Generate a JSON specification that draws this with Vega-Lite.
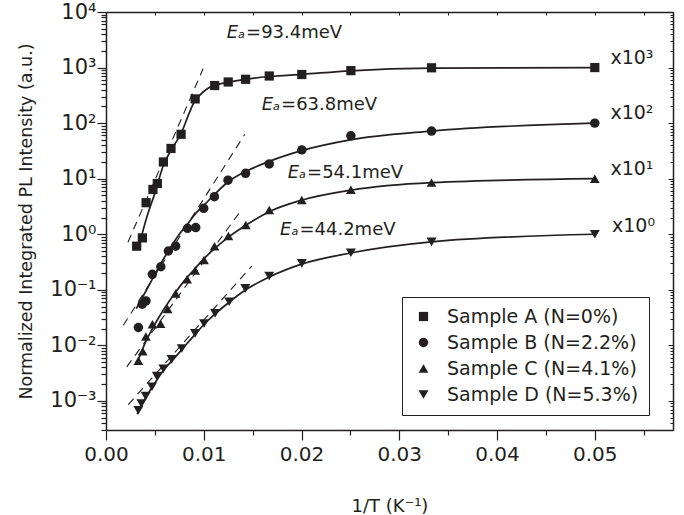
{
  "$schema": "https://vega.github.io/schema/vega-lite/v6.json",
  "width": 567,
  "height": 418,
  "autosize": "none",
  "padding": {"left": 106, "top": 12, "right": 11, "bottom": 85},
  "background": "white",
  "config": {
    "view": {"stroke": null},
    "font": "DejaVu Sans",
    "text": {"font": "DejaVu Sans", "color": "#231f20"}
  },
  "datasets": {
    "measured": [
      {"sample": "Sample A (N=0%)", "x": 0.00314, "y": 0.61},
      {"sample": "Sample A (N=0%)", "x": 0.00372, "y": 0.86},
      {"sample": "Sample A (N=0%)", "x": 0.0041, "y": 3.7},
      {"sample": "Sample A (N=0%)", "x": 0.0048, "y": 6.4},
      {"sample": "Sample A (N=0%)", "x": 0.00525, "y": 8.2},
      {"sample": "Sample A (N=0%)", "x": 0.00587, "y": 20},
      {"sample": "Sample A (N=0%)", "x": 0.00665, "y": 35},
      {"sample": "Sample A (N=0%)", "x": 0.00768, "y": 63},
      {"sample": "Sample A (N=0%)", "x": 0.00912, "y": 273},
      {"sample": "Sample A (N=0%)", "x": 0.01112, "y": 475},
      {"sample": "Sample A (N=0%)", "x": 0.0125, "y": 550},
      {"sample": "Sample A (N=0%)", "x": 0.01428, "y": 615},
      {"sample": "Sample A (N=0%)", "x": 0.0167, "y": 705},
      {"sample": "Sample A (N=0%)", "x": 0.02003, "y": 750},
      {"sample": "Sample A (N=0%)", "x": 0.02505, "y": 880},
      {"sample": "Sample A (N=0%)", "x": 0.0333, "y": 990},
      {"sample": "Sample A (N=0%)", "x": 0.05, "y": 1000},
      {"sample": "Sample B (N=2.2%)", "x": 0.00331, "y": 0.021},
      {"sample": "Sample B (N=2.2%)", "x": 0.0037, "y": 0.055},
      {"sample": "Sample B (N=2.2%)", "x": 0.00409, "y": 0.063},
      {"sample": "Sample B (N=2.2%)", "x": 0.00474, "y": 0.19},
      {"sample": "Sample B (N=2.2%)", "x": 0.00561, "y": 0.26},
      {"sample": "Sample B (N=2.2%)", "x": 0.00638, "y": 0.5},
      {"sample": "Sample B (N=2.2%)", "x": 0.00712, "y": 0.61},
      {"sample": "Sample B (N=2.2%)", "x": 0.00834, "y": 1.28},
      {"sample": "Sample B (N=2.2%)", "x": 0.00918, "y": 1.32},
      {"sample": "Sample B (N=2.2%)", "x": 0.01, "y": 2.93},
      {"sample": "Sample B (N=2.2%)", "x": 0.01109, "y": 4.74},
      {"sample": "Sample B (N=2.2%)", "x": 0.01248, "y": 9.4},
      {"sample": "Sample B (N=2.2%)", "x": 0.01428, "y": 12.5},
      {"sample": "Sample B (N=2.2%)", "x": 0.0167, "y": 18.4},
      {"sample": "Sample B (N=2.2%)", "x": 0.02003, "y": 33},
      {"sample": "Sample B (N=2.2%)", "x": 0.02505, "y": 59},
      {"sample": "Sample B (N=2.2%)", "x": 0.0333, "y": 72},
      {"sample": "Sample B (N=2.2%)", "x": 0.05, "y": 100},
      {"sample": "Sample C (N=4.1%)", "x": 0.00331, "y": 0.0053},
      {"sample": "Sample C (N=4.1%)", "x": 0.00376, "y": 0.0078},
      {"sample": "Sample C (N=4.1%)", "x": 0.00408, "y": 0.0145},
      {"sample": "Sample C (N=4.1%)", "x": 0.00475, "y": 0.024},
      {"sample": "Sample C (N=4.1%)", "x": 0.00558, "y": 0.0245},
      {"sample": "Sample C (N=4.1%)", "x": 0.0063, "y": 0.045},
      {"sample": "Sample C (N=4.1%)", "x": 0.00712, "y": 0.086},
      {"sample": "Sample C (N=4.1%)", "x": 0.0083, "y": 0.155},
      {"sample": "Sample C (N=4.1%)", "x": 0.00912, "y": 0.223},
      {"sample": "Sample C (N=4.1%)", "x": 0.01003, "y": 0.343},
      {"sample": "Sample C (N=4.1%)", "x": 0.0111, "y": 0.61},
      {"sample": "Sample C (N=4.1%)", "x": 0.01252, "y": 0.93},
      {"sample": "Sample C (N=4.1%)", "x": 0.0143, "y": 1.47},
      {"sample": "Sample C (N=4.1%)", "x": 0.0167, "y": 2.73},
      {"sample": "Sample C (N=4.1%)", "x": 0.02003, "y": 4.13},
      {"sample": "Sample C (N=4.1%)", "x": 0.02505, "y": 6.3},
      {"sample": "Sample C (N=4.1%)", "x": 0.0333, "y": 8.5},
      {"sample": "Sample C (N=4.1%)", "x": 0.05, "y": 10},
      {"sample": "Sample D (N=5.3%)", "x": 0.00331, "y": 0.00068},
      {"sample": "Sample D (N=5.3%)", "x": 0.00362, "y": 0.0009},
      {"sample": "Sample D (N=5.3%)", "x": 0.00406, "y": 0.00122},
      {"sample": "Sample D (N=5.3%)", "x": 0.0047, "y": 0.0018},
      {"sample": "Sample D (N=5.3%)", "x": 0.0052, "y": 0.0028},
      {"sample": "Sample D (N=5.3%)", "x": 0.00587, "y": 0.0038},
      {"sample": "Sample D (N=5.3%)", "x": 0.00671, "y": 0.0056},
      {"sample": "Sample D (N=5.3%)", "x": 0.00775, "y": 0.0088},
      {"sample": "Sample D (N=5.3%)", "x": 0.00911, "y": 0.0164},
      {"sample": "Sample D (N=5.3%)", "x": 0.01003, "y": 0.0248},
      {"sample": "Sample D (N=5.3%)", "x": 0.01116, "y": 0.0376},
      {"sample": "Sample D (N=5.3%)", "x": 0.0126, "y": 0.061},
      {"sample": "Sample D (N=5.3%)", "x": 0.01425, "y": 0.106},
      {"sample": "Sample D (N=5.3%)", "x": 0.0167, "y": 0.177},
      {"sample": "Sample D (N=5.3%)", "x": 0.02003, "y": 0.3},
      {"sample": "Sample D (N=5.3%)", "x": 0.02505, "y": 0.465},
      {"sample": "Sample D (N=5.3%)", "x": 0.0333, "y": 0.73},
      {"sample": "Sample D (N=5.3%)", "x": 0.05, "y": 1.0}
    ],
    "fit": [
      {"sample": "A", "x": 0.0033, "y": 0.55},
      {"sample": "A", "x": 0.0042, "y": 2.1},
      {"sample": "A", "x": 0.005, "y": 5.5},
      {"sample": "A", "x": 0.0059, "y": 18},
      {"sample": "A", "x": 0.0068, "y": 36},
      {"sample": "A", "x": 0.0077, "y": 66},
      {"sample": "A", "x": 0.0085, "y": 150},
      {"sample": "A", "x": 0.0091, "y": 255},
      {"sample": "A", "x": 0.0096, "y": 320},
      {"sample": "A", "x": 0.0104, "y": 420},
      {"sample": "A", "x": 0.0111, "y": 478},
      {"sample": "A", "x": 0.0125, "y": 545},
      {"sample": "A", "x": 0.0143, "y": 615},
      {"sample": "A", "x": 0.0167, "y": 690},
      {"sample": "A", "x": 0.02, "y": 755},
      {"sample": "A", "x": 0.025, "y": 875},
      {"sample": "A", "x": 0.0333, "y": 975},
      {"sample": "A", "x": 0.05, "y": 1000},
      {"sample": "B", "x": 0.0031, "y": 0.046},
      {"sample": "B", "x": 0.0045, "y": 0.13},
      {"sample": "B", "x": 0.006, "y": 0.39},
      {"sample": "B", "x": 0.0075, "y": 1.0},
      {"sample": "B", "x": 0.0083, "y": 1.5},
      {"sample": "B", "x": 0.0092, "y": 2.4},
      {"sample": "B", "x": 0.01, "y": 3.3},
      {"sample": "B", "x": 0.0111, "y": 5.2},
      {"sample": "B", "x": 0.0125, "y": 8.8},
      {"sample": "B", "x": 0.0143, "y": 13.5},
      {"sample": "B", "x": 0.0167, "y": 20.5},
      {"sample": "B", "x": 0.02, "y": 32},
      {"sample": "B", "x": 0.025, "y": 50},
      {"sample": "B", "x": 0.0333, "y": 72},
      {"sample": "B", "x": 0.05, "y": 100},
      {"sample": "C", "x": 0.0033, "y": 0.0055},
      {"sample": "C", "x": 0.004, "y": 0.011},
      {"sample": "C", "x": 0.005, "y": 0.024},
      {"sample": "C", "x": 0.006, "y": 0.047},
      {"sample": "C", "x": 0.007, "y": 0.085},
      {"sample": "C", "x": 0.008, "y": 0.145},
      {"sample": "C", "x": 0.009, "y": 0.23},
      {"sample": "C", "x": 0.01, "y": 0.36},
      {"sample": "C", "x": 0.0111, "y": 0.55},
      {"sample": "C", "x": 0.0125, "y": 0.88},
      {"sample": "C", "x": 0.0143, "y": 1.45},
      {"sample": "C", "x": 0.0167, "y": 2.55},
      {"sample": "C", "x": 0.02, "y": 4.1},
      {"sample": "C", "x": 0.025, "y": 6.2},
      {"sample": "C", "x": 0.0333, "y": 8.5},
      {"sample": "C", "x": 0.05, "y": 10},
      {"sample": "D", "x": 0.0032, "y": 0.00058},
      {"sample": "D", "x": 0.004, "y": 0.0011},
      {"sample": "D", "x": 0.005, "y": 0.0021},
      {"sample": "D", "x": 0.006, "y": 0.0038},
      {"sample": "D", "x": 0.007, "y": 0.0059},
      {"sample": "D", "x": 0.008, "y": 0.0094},
      {"sample": "D", "x": 0.009, "y": 0.015},
      {"sample": "D", "x": 0.01, "y": 0.0235},
      {"sample": "D", "x": 0.0111, "y": 0.036},
      {"sample": "D", "x": 0.0125, "y": 0.058},
      {"sample": "D", "x": 0.0143, "y": 0.1},
      {"sample": "D", "x": 0.0167, "y": 0.17},
      {"sample": "D", "x": 0.02, "y": 0.29},
      {"sample": "D", "x": 0.025, "y": 0.46},
      {"sample": "D", "x": 0.0333, "y": 0.73},
      {"sample": "D", "x": 0.05, "y": 1.0}
    ],
    "arrhenius": [
      {"sample": "A", "x": 0.00225, "y": 0.72},
      {"sample": "A", "x": 0.00993, "y": 950},
      {"sample": "B", "x": 0.00177, "y": 0.023},
      {"sample": "B", "x": 0.0142, "y": 63},
      {"sample": "C", "x": 0.00212, "y": 0.0041},
      {"sample": "C", "x": 0.01395, "y": 2.9},
      {"sample": "D", "x": 0.00228, "y": 0.00086},
      {"sample": "D", "x": 0.01491, "y": 0.267}
    ],
    "energies": [
      {"x": 0.01433, "y": 4130, "val": "=93.4meV"},
      {"x": 0.01791, "y": 213, "val": "=63.8meV"},
      {"x": 0.02057, "y": 12.5, "val": "=54.1meV"},
      {"x": 0.01979, "y": 1.19, "val": "=44.2meV"}
    ],
    "factors": [
      {"x": 0.0516, "y": 1466, "lab": "x10³"},
      {"x": 0.0516, "y": 153, "lab": "x10²"},
      {"x": 0.0516, "y": 15, "lab": "x10¹"},
      {"x": 0.05176, "y": 1.41, "lab": "x10⁰"}
    ]
  },
  "resolve": {"axis": {"x": "independent", "y": "independent"}},
  "layer": [
    {
      "data": {"name": "arrhenius"},
      "mark": {"type": "line", "color": "#231f20", "strokeWidth": 1.1, "strokeDash": [8, 6]},
      "encoding": {
        "x": {
          "field": "x", "type": "quantitative",
          "scale": {"domain": [0, 0.058], "nice": false, "zero": false},
          "axis": {
            "orient": "bottom",
            "values": [0, 0.005, 0.01, 0.015, 0.02, 0.025, 0.03, 0.035, 0.04, 0.045, 0.05, 0.055],
            "labelExpr": "abs(datum.value * 100 - round(datum.value * 100)) < 0.000001 ? format(datum.value, '.2f') : ''",
            "tickSize": {"condition": {"test": "abs(datum.value * 100 - round(datum.value * 100)) < 0.000001", "value": 10}, "value": 5},
            "labelFontSize": 20, "labelColor": "#231f20", "labelPadding": 4, "labelFlush": false, "labelOverlap": false,
            "title": "1/T (K⁻¹)", "titleFontSize": 18, "titleFontWeight": "normal", "titleColor": "#231f20", "titlePadding": 33,
            "grid": false, "domainColor": "#231f20", "domainWidth": 1.5, "tickColor": "#231f20", "tickWidth": 1.2
          }
        },
        "y": {
          "field": "y", "type": "quantitative",
          "scale": {"type": "log", "domain": [0.0003, 10000], "nice": false},
          "axis": {
            "orient": "left",
            "values": [0.0003, 0.0004, 0.0005, 0.0006, 0.0007, 0.0008, 0.0009, 0.001, 0.002, 0.003, 0.004, 0.005, 0.006, 0.007, 0.008, 0.009, 0.01, 0.02, 0.03, 0.04, 0.05, 0.06, 0.07, 0.08, 0.09, 0.1, 0.2, 0.3, 0.4, 0.5, 0.6, 0.7, 0.8, 0.9, 1, 2, 3, 4, 5, 6, 7, 8, 9, 10, 20, 30, 40, 50, 60, 70, 80, 90, 100, 200, 300, 400, 500, 600, 700, 800, 900, 1000, 2000, 3000, 4000, 5000, 6000, 7000, 8000, 9000, 10000],
            "labelExpr": "abs(log(datum.value) / LN10 - round(log(datum.value) / LN10)) < 0.01 ? '10' + ['⁻³', '⁻²', '⁻¹', '⁰', '¹', '²', '³', '⁴'][round(log(datum.value) / LN10) + 3] : ''",
            "tickSize": {"condition": {"test": "abs(log(datum.value) / LN10 - round(log(datum.value) / LN10)) < 0.01", "value": 9}, "value": 5},
            "labelFontSize": 21, "labelColor": "#231f20", "labelPadding": 1, "labelFlush": false, "labelOverlap": false,
            "title": "Normalized Integrated PL Intensity (a.u.)", "titleFontSize": 17.5, "titleFontWeight": "normal", "titleColor": "#231f20", "titlePadding": 14,
            "grid": false, "domainColor": "#231f20", "domainWidth": 1.5, "tickColor": "#231f20", "tickWidth": 1.2
          }
        },
        "detail": {"field": "sample", "type": "nominal"}
      }
    },
    {
      "data": {"name": "fit"},
      "mark": {"type": "line", "color": "#231f20", "strokeWidth": 1.7, "interpolate": "monotone"},
      "encoding": {
        "x": {"field": "x", "type": "quantitative", "axis": null},
        "y": {"field": "y", "type": "quantitative", "axis": null},
        "detail": {"field": "sample", "type": "nominal"}
      }
    },
    {
      "data": {"name": "measured"},
      "mark": {"type": "point", "filled": true, "color": "#231f20", "opacity": 1, "strokeWidth": 0},
      "encoding": {
        "x": {"field": "x", "type": "quantitative", "axis": null},
        "y": {"field": "y", "type": "quantitative", "axis": null},
        "shape": {
          "field": "sample", "type": "nominal",
          "scale": {
            "domain": ["Sample A (N=0%)", "Sample B (N=2.2%)", "Sample C (N=4.1%)", "Sample D (N=5.3%)"],
            "range": ["square", "circle", "triangle-up", "triangle-down"]
          },
          "legend": {
            "title": null, "orient": "none", "legendX": 296, "legendY": 285,
            "padding": 10, "strokeColor": "#231f20", "fillColor": "white",
            "labelFontSize": 19, "labelFont": "DejaVu Sans", "labelColor": "#231f20", "labelLimit": 400,
            "symbolFillColor": "#231f20", "symbolStrokeWidth": 0,
            "symbolOffset": 2, "labelOffset": 14, "rowPadding": 6
          }
        },
        "size": {
          "field": "sample", "type": "nominal",
          "scale": {
            "domain": ["Sample A (N=0%)", "Sample B (N=2.2%)", "Sample C (N=4.1%)", "Sample D (N=5.3%)"],
            "range": [85, 100, 130, 130]
          }
        }
      }
    },
    {
      "data": {"name": "energies"},
      "mark": {"type": "text", "text": "Eₐ", "align": "right", "baseline": "middle", "fontSize": 18, "fontStyle": "italic", "dx": -1},
      "encoding": {
        "x": {"field": "x", "type": "quantitative", "axis": null},
        "y": {"field": "y", "type": "quantitative", "axis": null}
      }
    },
    {
      "data": {"name": "energies"},
      "mark": {"type": "text", "align": "left", "baseline": "middle", "fontSize": 18},
      "encoding": {
        "x": {"field": "x", "type": "quantitative", "axis": null},
        "y": {"field": "y", "type": "quantitative", "axis": null},
        "text": {"field": "val", "type": "nominal"}
      }
    },
    {
      "data": {"name": "factors"},
      "mark": {"type": "text", "align": "left", "baseline": "middle", "fontSize": 19},
      "encoding": {
        "x": {"field": "x", "type": "quantitative", "axis": null},
        "y": {"field": "y", "type": "quantitative", "axis": null},
        "text": {"field": "lab", "type": "nominal"}
      }
    },
    {
      "data": {"name": "measured"},
      "mark": {"type": "point", "opacity": 0},
      "encoding": {
        "x": {
          "field": "x", "type": "quantitative",
          "axis": {
            "orient": "top", "labels": false, "title": null, "grid": false,
            "values": [0, 0.005, 0.01, 0.015, 0.02, 0.025, 0.03, 0.035, 0.04, 0.045, 0.05, 0.055],
            "tickSize": -3, "tickColor": "#231f20", "tickWidth": 1,
            "domainColor": "#231f20", "domainWidth": 1.5
          }
        },
        "y": {
          "field": "y", "type": "quantitative",
          "axis": {
            "orient": "right", "labels": false, "title": null, "grid": false,
            "values": [0.0003, 0.0004, 0.0005, 0.0006, 0.0007, 0.0008, 0.0009, 0.001, 0.002, 0.003, 0.004, 0.005, 0.006, 0.007, 0.008, 0.009, 0.01, 0.02, 0.03, 0.04, 0.05, 0.06, 0.07, 0.08, 0.09, 0.1, 0.2, 0.3, 0.4, 0.5, 0.6, 0.7, 0.8, 0.9, 1, 2, 3, 4, 5, 6, 7, 8, 9, 10, 20, 30, 40, 50, 60, 70, 80, 90, 100, 200, 300, 400, 500, 600, 700, 800, 900, 1000, 2000, 3000, 4000, 5000, 6000, 7000, 8000, 9000, 10000],
            "tickSize": {"condition": {"test": "abs(log(datum.value) / LN10 - round(log(datum.value) / LN10)) < 0.01", "value": -5}, "value": -3},
            "tickColor": "#231f20", "tickWidth": 1,
            "domainColor": "#231f20", "domainWidth": 1.5
          }
        }
      }
    }
  ]
}
